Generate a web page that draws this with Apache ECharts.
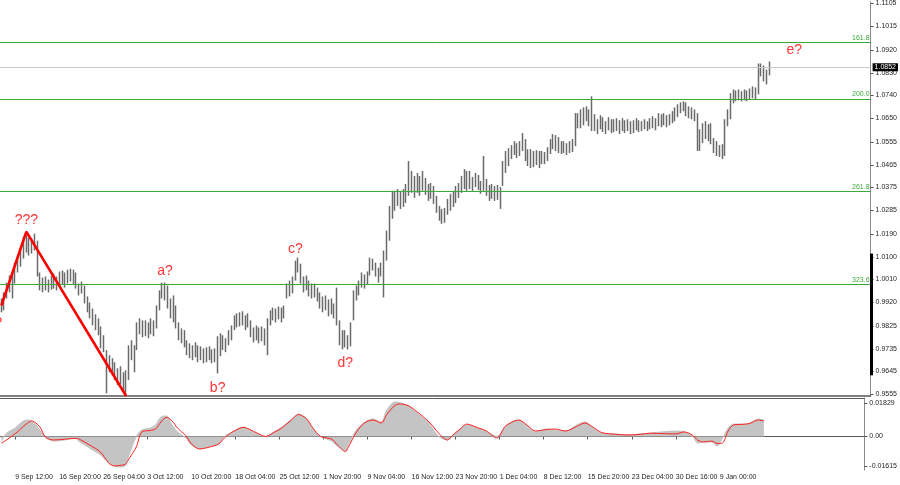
<!DOCTYPE html>
<html><head><meta charset="utf-8">
<script src="https://cdn.jsdelivr.net/npm/echarts@6/dist/echarts.min.js"></script>
<style>html,body{margin:0;padding:0;background:#fff}#c{width:900px;height:485px}</style>
</head><body><div id="c"></div>
<script>
// ---- price bars (8h bars) ----
const firstOpen = 0.9900;
const closes = [
0.9907,0.9943,0.9974,0.9994,1.0006,1.0046,1.0077,1.0105,1.0144,1.0164,
1.0132,1.0144,1.0156,1.0046,0.9998,0.9986,0.9994,0.9982,0.9998,1.0006,
0.9990,1.0014,1.0022,1.0006,1.0026,1.0038,1.0022,1.0006,0.9974,0.9982,
0.9947,0.9907,0.9888,0.9856,0.9840,0.9816,0.9769,0.9749,0.9690,0.9670,
0.9658,0.9642,0.9618,0.9630,0.9603,0.9618,0.9710,0.9737,0.9682,0.9801,
0.9828,0.9809,0.9816,0.9801,0.9824,0.9816,0.9868,0.9927,0.9974,0.9967,
0.9927,0.9888,0.9907,0.9848,0.9809,0.9789,0.9777,0.9737,0.9730,0.9722,
0.9737,0.9710,0.9722,0.9706,0.9714,0.9722,0.9702,0.9710,0.9749,0.9730,
0.9761,0.9745,0.9777,0.9809,0.9840,0.9856,0.9848,0.9860,0.9832,0.9848,
0.9809,0.9789,0.9801,0.9785,0.9797,0.9777,0.9828,0.9856,0.9876,0.9864,
0.9880,0.9868,0.9888,0.9967,0.9974,0.9986,1.0053,1.0077,1.0026,0.9986,
0.9998,0.9974,0.9959,0.9967,0.9947,0.9927,0.9907,0.9919,0.9895,0.9907,
0.9880,0.9927,0.9789,0.9761,0.9777,0.9753,0.9816,0.9927,0.9959,0.9986,
1.0014,0.9998,1.0022,1.0065,1.0077,1.0046,1.0026,1.0053,1.0093,1.0172,
1.0263,1.0322,1.0330,1.0342,1.0322,1.0338,1.0362,1.0381,1.0401,1.0369,
1.0393,1.0381,1.0409,1.0377,1.0362,1.0373,1.0342,1.0302,1.0275,1.0251,
1.0263,1.0302,1.0322,1.0330,1.0350,1.0369,1.0401,1.0421,1.0401,1.0409,
1.0381,1.0409,1.0393,1.0377,1.0401,1.0369,1.0354,1.0369,1.0350,1.0362,
1.0342,1.0448,1.0488,1.0512,1.0520,1.0535,1.0520,1.0539,1.0559,1.0512,
1.0488,1.0500,1.0480,1.0496,1.0480,1.0500,1.0488,1.0512,1.0539,1.0559,
1.0551,1.0539,1.0527,1.0539,1.0523,1.0535,1.0543,1.0638,1.0646,1.0638,
1.0658,1.0678,1.0646,1.0618,1.0630,1.0614,1.0638,1.0622,1.0606,1.0630,
1.0614,1.0622,1.0630,1.0610,1.0626,1.0614,1.0622,1.0606,1.0618,1.0630,
1.0614,1.0622,1.0630,1.0618,1.0630,1.0638,1.0626,1.0646,1.0638,1.0650,
1.0634,1.0646,1.0658,1.0670,1.0685,1.0697,1.0705,1.0685,1.0678,1.0670,
1.0658,1.0579,1.0559,1.0599,1.0606,1.0591,1.0579,1.0539,1.0527,1.0512,
1.0520,1.0606,1.0658,1.0717,1.0737,1.0733,1.0741,1.0733,1.0745,1.0737,
1.0749,1.0757,1.0749,1.0835,1.0851,1.0828,1.0804,1.0852];
const highs = [
0.9935,0.9959,0.9998,1.0026,1.0034,1.0077,1.0105,1.0132,1.0180,1.0196,
1.0176,1.0172,1.0192,1.0164,1.0038,1.0018,1.0022,1.0010,1.0026,1.0034,
1.0022,1.0042,1.0046,1.0038,1.0049,1.0053,1.0049,1.0038,0.9994,1.0002,
0.9986,0.9943,0.9919,0.9895,0.9872,0.9856,0.9824,0.9789,0.9730,0.9710,
0.9698,0.9682,0.9658,0.9666,0.9642,0.9650,0.9749,0.9769,0.9749,0.9840,
0.9856,0.9848,0.9848,0.9840,0.9856,0.9848,0.9907,0.9967,0.9998,0.9998,
0.9986,0.9935,0.9947,0.9907,0.9840,0.9816,0.9809,0.9769,0.9757,0.9749,
0.9761,0.9749,0.9745,0.9737,0.9741,0.9745,0.9733,0.9737,0.9785,0.9797,
0.9789,0.9777,0.9809,0.9828,0.9868,0.9876,0.9880,0.9884,0.9868,0.9876,
0.9848,0.9820,0.9828,0.9820,0.9824,0.9816,0.9856,0.9888,0.9899,0.9895,
0.9903,0.9899,0.9907,0.9994,1.0006,1.0022,1.0085,1.0097,1.0073,1.0022,
1.0026,1.0006,0.9994,0.9994,0.9978,0.9959,0.9943,0.9947,0.9931,0.9935,
0.9915,0.9978,0.9848,0.9809,0.9809,0.9789,0.9840,0.9967,0.9986,1.0006,
1.0038,1.0030,1.0042,1.0097,1.0093,1.0077,1.0057,1.0077,1.0125,1.0204,
1.0302,1.0362,1.0362,1.0369,1.0362,1.0369,1.0389,1.0480,1.0441,1.0421,
1.0433,1.0421,1.0441,1.0413,1.0389,1.0393,1.0381,1.0342,1.0302,1.0290,
1.0294,1.0330,1.0350,1.0362,1.0381,1.0393,1.0421,1.0448,1.0441,1.0441,
1.0417,1.0433,1.0425,1.0401,1.0500,1.0409,1.0385,1.0389,1.0381,1.0385,
1.0377,1.0480,1.0520,1.0531,1.0543,1.0559,1.0551,1.0559,1.0591,1.0567,
1.0527,1.0527,1.0520,1.0523,1.0520,1.0520,1.0516,1.0535,1.0567,1.0587,
1.0583,1.0575,1.0559,1.0559,1.0551,1.0559,1.0567,1.0670,1.0670,1.0685,
1.0693,1.0697,1.0685,1.0737,1.0666,1.0646,1.0662,1.0654,1.0638,1.0654,
1.0646,1.0646,1.0650,1.0642,1.0650,1.0642,1.0646,1.0638,1.0642,1.0650,
1.0642,1.0638,1.0646,1.0638,1.0650,1.0658,1.0650,1.0670,1.0666,1.0670,
1.0662,1.0666,1.0678,1.0693,1.0705,1.0713,1.0717,1.0713,1.0697,1.0693,
1.0685,1.0670,1.0606,1.0630,1.0638,1.0626,1.0630,1.0571,1.0559,1.0543,
1.0547,1.0646,1.0685,1.0749,1.0764,1.0760,1.0764,1.0757,1.0764,1.0760,
1.0768,1.0776,1.0772,1.0867,1.0867,1.0859,1.0843,1.0875];
const lows = [
0.9880,0.9888,0.9935,0.9959,0.9935,0.9994,1.0038,1.0061,1.0093,1.0117,
1.0105,1.0113,1.0125,1.0022,0.9967,0.9959,0.9967,0.9959,0.9970,0.9974,
0.9967,0.9982,0.9990,0.9978,0.9994,1.0002,0.9990,0.9974,0.9947,0.9955,
0.9915,0.9880,0.9856,0.9828,0.9809,0.9789,0.9737,0.9722,0.9559,0.9642,
0.9630,0.9611,0.9591,0.9595,0.9571,0.9551,0.9611,0.9690,0.9642,0.9730,
0.9793,0.9781,0.9785,0.9777,0.9793,0.9785,0.9816,0.9888,0.9935,0.9927,
0.9895,0.9856,0.9840,0.9816,0.9769,0.9757,0.9741,0.9710,0.9698,0.9690,
0.9702,0.9682,0.9690,0.9678,0.9682,0.9690,0.9678,0.9682,0.9638,0.9706,
0.9730,0.9722,0.9749,0.9769,0.9809,0.9820,0.9824,0.9828,0.9809,0.9820,
0.9781,0.9761,0.9769,0.9757,0.9765,0.9749,0.9710,0.9828,0.9848,0.9840,
0.9852,0.9840,0.9856,0.9935,0.9943,0.9955,1.0006,1.0038,0.9994,0.9959,
0.9967,0.9943,0.9935,0.9939,0.9923,0.9895,0.9880,0.9888,0.9864,0.9872,
0.9856,0.9828,0.9749,0.9733,0.9741,0.9733,0.9745,0.9848,0.9927,0.9947,
0.9978,0.9974,0.9990,1.0026,1.0046,1.0022,0.9998,1.0022,0.9939,1.0085,
1.0164,1.0251,1.0283,1.0302,1.0290,1.0298,1.0314,1.0342,1.0354,1.0334,
1.0354,1.0342,1.0362,1.0346,1.0322,1.0330,1.0310,1.0275,1.0243,1.0231,
1.0235,1.0267,1.0283,1.0298,1.0314,1.0334,1.0354,1.0369,1.0362,1.0369,
1.0362,1.0377,1.0365,1.0350,1.0362,1.0342,1.0322,1.0330,1.0322,1.0326,
1.0290,1.0381,1.0433,1.0460,1.0488,1.0504,1.0492,1.0500,1.0520,1.0480,
1.0460,1.0452,1.0456,1.0464,1.0452,1.0468,1.0468,1.0480,1.0508,1.0527,
1.0520,1.0512,1.0508,1.0512,1.0504,1.0512,1.0516,1.0539,1.0610,1.0610,
1.0622,1.0638,1.0618,1.0599,1.0599,1.0587,1.0606,1.0595,1.0587,1.0602,
1.0591,1.0595,1.0599,1.0587,1.0599,1.0591,1.0599,1.0587,1.0591,1.0602,
1.0595,1.0599,1.0606,1.0599,1.0606,1.0610,1.0602,1.0618,1.0614,1.0622,
1.0614,1.0622,1.0630,1.0638,1.0654,1.0670,1.0678,1.0658,1.0650,1.0646,
1.0638,1.0520,1.0520,1.0551,1.0567,1.0559,1.0547,1.0512,1.0500,1.0496,
1.0488,1.0500,1.0618,1.0646,1.0709,1.0717,1.0721,1.0717,1.0721,1.0717,
1.0725,1.0729,1.0725,1.0745,1.0816,1.0796,1.0784,1.0820];

// ---- axes / labels ----
const priceTicks = [1.1105,1.1015,1.0920,1.0830,1.0740,1.0650,1.0555,1.0465,1.0375,1.0285,1.0190,1.0100,1.0010,0.9920,0.9825,0.9735,0.9645,0.9555];
const oscTicks = [0.01829, 0, -0.01615];
const timeLabels = ['9 Sep 12:00','16 Sep 20:00','26 Sep 04:00','3 Oct 12:00','10 Oct 20:00','18 Oct 04:00','25 Oct 12:00','1 Nov 20:00','9 Nov 04:00','16 Nov 12:00','23 Nov 20:00','1 Dec 04:00','8 Dec 12:00','15 Dec 20:00','23 Dec 04:00','30 Dec 16:00','9 Jan 00:00'];

// ---- levels & annotations ----
const fibNames = ['161.8','200.0','261.8','323.6'];
const fibLevels = [1.0951, 1.0726, 1.0359, 0.9991];
const lastPrice = 1.0852;
const waveLineBars = [0, 9, 45];
const waveLinePrices = [0.9907, 1.0200, 0.9548];
const waveLabelText = ['?', '???', 'a?', 'b?', 'c?', 'd?', 'e?'];
const waveLabelBars = [0, 9, 59, 78, 106, 124, 286];
const waveLabelPrices = [0.9836, 1.0247, 1.0042, 0.9579, 1.0132, 0.9678, 1.0918];
const axisMarkRange = [0.9630, 1.0113];

// ---- oscillator (sampled at bar indices) ----
const oscBars = [0,2,5,7,9,11,14,16,19,23, 27,28,32,36,39,41,43,45,46,49, 51,54,56,58,60,62,64,67,69,72, 75,79,81,84,88,90,93,96,99,102,
105,108,111,113,116,120,122,125,126,129, 132,135,138,140,143,145,148,151,155,157, 159,162,164,167,169,173,176,180,183,186,
188,191,194,198,201,205,209,212,215,218, 223,228,232,236,240,245,248,251,253,255, 258,260,262,264,266,270,272,275,277];
const oscHist = [-0.0025,0.002,0.0046,0.0074,0.009,0.0085,0.0036,-0.0003,-0.0025,-0.0019,
-0.0008,-0.0025,-0.0063,-0.0101,-0.0145,-0.016,-0.0167,-0.016,-0.0117,0,
0.0036,0.0046,0.0063,0.0107,0.0112,0.0063,0.0025,-0.0008,-0.0046,-0.0068,
-0.0057,-0.0041,0,0.0025,0.0052,0.0036,0.0014,0,0.0025,0.0052,
0.009,0.0123,0.009,0.0046,0,-0.0025,-0.0052,-0.0079,-0.0046,0.0036,
0.0079,0.0096,0.0079,0.0145,0.0189,0.0183,0.0167,0.0128,0.0079,0.0036,
0,-0.0019,0.0003,0.0046,0.0063,0.0046,0.003,0,0.0052,0.0085,
0.009,0.0057,0.0025,0.0041,0.0036,0.003,0.0063,0.0079,0.0046,0.0019,
0.0014,0.0008,0.0014,0.0019,0.0025,0.003,0.0025,0.0003,-0.0036,-0.003,
-0.003,-0.0052,-0.0008,0.0046,0.0068,0.0068,0.0074,0.0096,0.009];
const oscSignal = [-0.0036,-0.0018,0.0015,0.0041,0.0068,0.0085,0.0052,-0.0003,-0.0019,-0.0015,
-0.001,-0.0012,-0.0046,-0.0085,-0.0145,-0.0161,-0.0158,-0.0152,-0.013,-0.0057,
0.0025,0.0033,0.0041,0.008,0.0105,0.0085,0.0046,0.0005,-0.004,-0.0068,
-0.006,-0.004,-0.0008,0.0025,0.005,0.004,0.0018,0,0.0022,0.0048,
0.0085,0.012,0.0095,0.005,0,-0.0014,-0.0045,-0.0082,-0.006,0.0025,
0.0075,0.009,0.0074,0.012,0.017,0.0178,0.0167,0.0135,0.0085,0.0052,
0.0015,-0.0019,0.0008,0.0045,0.0068,0.0048,0.0032,-0.0008,0.0055,0.0082,
0.009,0.0062,0.003,0.0038,0.0041,0.003,0.0055,0.0074,0.005,0.0022,
0.0012,0.0008,0.0012,0.0018,0.0016,0.0014,0.0025,0.0008,-0.002,-0.003,
-0.0025,-0.0038,-0.0035,0.003,0.0063,0.0067,0.0072,0.009,0.0085];

// ---- layout constants ----
const SLOTS = 314;           // visible bar slots incl. right shift
const LABEL_FIRST = 5, LABEL_EVERY = 16;
const FONT = 'Liberation Sans, Arial, sans-serif';
const GREEN = '#3aa83a', RED = '#ff0000', BAR = '#6a6a6a';

const cats = Array.from({length: SLOTS}, (_, i) => String(i));
const candles = closes.map((c, i) => [i === 0 ? firstOpen : closes[i - 1], c, lows[i], highs[i]]);
const isLabelIdx = (idx) => idx >= LABEL_FIRST && (idx - LABEL_FIRST) % LABEL_EVERY === 0 && (idx - LABEL_FIRST) / LABEL_EVERY < timeLabels.length;

const chart = echarts.init(document.getElementById('c'), null, {renderer: 'canvas'});
const option = {
  animation: false,
  backgroundColor: '#ffffff',
  textStyle: {fontFamily: FONT},
  grid: [
    {left: 0, right: 29, top: 0, height: 396},
    {left: 0, right: 29, top: 398, height: 72}
  ],
  xAxis: [
    {type: 'category', gridIndex: 0, data: cats, boundaryGap: true,
     axisLine: {show: true, lineStyle: {color: '#5a5a5a', width: 1.5}},
     axisTick: {show: false}, axisLabel: {show: false}, splitLine: {show: false}},
    {type: 'category', gridIndex: 1, data: cats, boundaryGap: true,
     axisLine: {show: true, lineStyle: {color: '#5a5a5a', width: 1}},
     axisTick: {show: true, alignWithLabel: true, length: 3, interval: (idx) => isLabelIdx(idx), lineStyle: {color: '#5a5a5a'}},
     axisLabel: {show: true, interval: (idx) => isLabelIdx(idx), align: 'left', margin: 4, fontSize: 7, color: '#1e1e1e', fontFamily: FONT,
       formatter: (v, idx) => timeLabels[(idx - LABEL_FIRST) / LABEL_EVERY] || ''},
     splitLine: {show: false}},
    {type: 'category', gridIndex: 1, data: cats, position: 'top',
     axisLine: {show: true, lineStyle: {color: '#5a5a5a', width: 1}},
     axisTick: {show: false}, axisLabel: {show: false}, splitLine: {show: false}}
  ],
  yAxis: [
    {type: 'value', gridIndex: 0, position: 'right', min: 0.9548, max: 1.1112,
     axisLine: {show: true, lineStyle: {color: '#8a8a8a', width: 1}},
     axisTick: {show: true, length: 3, customValues: priceTicks, lineStyle: {color: '#555'}},
     axisLabel: {show: true, customValues: priceTicks, margin: 5, fontSize: 7, color: '#1e1e1e', fontFamily: FONT,
       formatter: (v) => v.toFixed(4)},
     splitLine: {show: false}},
    {type: 'value', gridIndex: 1, position: 'right', min: -0.01831, max: 0.02104,
     axisLine: {show: true, lineStyle: {color: '#8a8a8a', width: 1}},
     axisTick: {show: true, length: 3, customValues: oscTicks, lineStyle: {color: '#555'}},
     axisLabel: {show: true, customValues: oscTicks, margin: 5, fontSize: 7, color: '#1e1e1e', fontFamily: FONT,
       formatter: (v) => (v === 0 ? '0.00' : v.toFixed(5))},
     splitLine: {show: false}}
  ],
  series: [
    {type: 'candlestick', xAxisIndex: 0, yAxisIndex: 0, data: candles, barWidth: 1.2,
     itemStyle: {color: BAR, color0: BAR, borderColor: BAR, borderColor0: BAR, borderWidth: 1.5},
     markLine: {silent: true, symbol: ['none', 'none'], animation: false, precision: 4,
       data: fibLevels.map((v, i) => ({yAxis: v, name: fibNames[i],
         lineStyle: {color: GREEN, width: 1, type: 'solid'},
         label: {show: true, position: 'insideEndTop', formatter: fibNames[i], color: GREEN, fontSize: 7, distance: 1, fontFamily: FONT}}))
         .concat([{yAxis: lastPrice, name: 'last',
           lineStyle: {color: '#c8c8c8', width: 1, type: 'solid'},
           label: {show: true, position: 'end', formatter: lastPrice.toFixed(4), backgroundColor: '#000', color: '#fff',
             padding: [1, 2, 0, 2], fontSize: 7, distance: 2, fontFamily: FONT}}])
     }},
    {type: 'line', xAxisIndex: 0, yAxisIndex: 0, data: waveLineBars.map((b, i) => [b, waveLinePrices[i]]),
     symbol: 'none', lineStyle: {color: RED, width: 2.6}, z: 5},
    {type: 'scatter', xAxisIndex: 0, yAxisIndex: 0, symbolSize: 1, itemStyle: {color: 'rgba(0,0,0,0)'}, z: 6,
     data: waveLabelBars.map((b, i) => ({value: [b, waveLabelPrices[i]], name: waveLabelText[i],
       label: i === 0 ? {offset: [-3, 0]} : {}})),
     label: {show: true, position: 'inside', formatter: '{b}', color: RED, fontSize: 14, fontFamily: FONT}},
    {type: 'line', xAxisIndex: 1, yAxisIndex: 1, data: oscBars.map((b, i) => [b, oscHist[i]]),
     symbol: 'none', smooth: 0.3, lineStyle: {width: 1, color: '#c4c4c4'}, areaStyle: {color: '#c4c4c4', opacity: 1}, z: 2},
    {type: 'line', xAxisIndex: 1, yAxisIndex: 1, data: oscBars.map((b, i) => [b, oscSignal[i]]),
     symbol: 'none', smooth: 0.3, lineStyle: {width: 1, color: '#ff2020'}, z: 3}
  ]
};
chart.setOption(option);
const yA = chart.convertToPixel({yAxisIndex: 0}, axisMarkRange[1]);
const yB = chart.convertToPixel({yAxisIndex: 0}, axisMarkRange[0]);
const xAxisEdge = 900 - 29;
chart.setOption({graphic: [{type: 'rect', shape: {x: xAxisEdge - 1, y: yA, width: 3, height: yB - yA}, style: {fill: '#000'}, z: 10}]});
</script></body></html>
